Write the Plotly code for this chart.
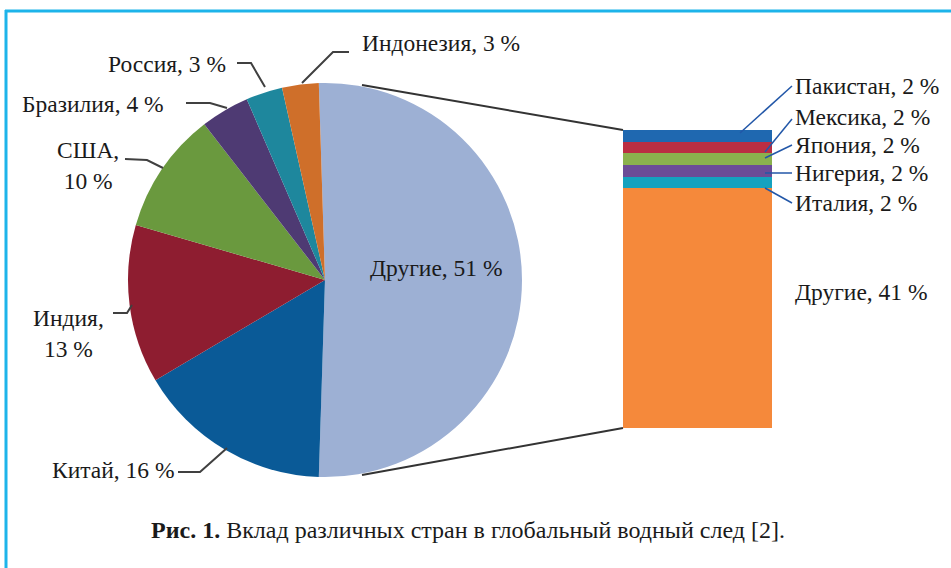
import plotly.graph_objects as go

# ---------------- data ----------------
pie_labels = ["Другие", "Китай", "Индия", "США", "Бразилия", "Россия", "Индонезия"]
pie_values = [51, 16, 13, 10, 4, 3, 3]
pie_colors = ["#9DB0D4", "#0A5A97", "#8E1D30", "#6A993E", "#4E3A73", "#1E879D", "#CF6F2A"]

bar_labels = ["Другие", "Италия", "Нигерия", "Япония", "Мексика", "Пакистан"]
bar_values = [41, 2, 2, 2, 2, 2]
bar_colors = ["#F5893B", "#15A2BF", "#6C4C97", "#8BB14D", "#BB2E42", "#1F68B0"]

caption_bold = "Рис. 1."
caption_text = "Вклад различных стран в глобальный водный след [2]."

# ---------------- geometry helpers ----------------
W, H = 951, 568
def px(x):
    return x / W
def py(y):
    return 1 - y / H

FONT = "Liberation Serif, Times New Roman, serif"
FS = 23.5

# pie placement
cx, cy, r = 325, 280, 197
# bar placement
bx0, bx1, by_top, by_bot = 623, 772, 130, 428

fig = go.Figure()

fig.add_trace(go.Pie(
    labels=pie_labels, values=pie_values,
    marker=dict(colors=pie_colors, line=dict(width=0)),
    sort=False, direction="clockwise", rotation=-1.8,
    textinfo="none", hoverinfo="label+percent",
    domain=dict(x=[px(cx - r), px(cx + r)], y=[py(cy + r), py(cy - r)]),
    showlegend=False,
))

for lab, val, col in zip(bar_labels, bar_values, bar_colors):
    fig.add_trace(go.Bar(
        x=["bar"], y=[val], name=lab, marker=dict(color=col, line=dict(width=0)),
        showlegend=False, xaxis="x", yaxis="y",
    ))

shapes = []
# frame
shapes.append(dict(type="line", xref="paper", yref="paper", x0=px(5), x1=px(W + 5), y0=py(11), y1=py(11),
                   line=dict(color="#1DB4EA", width=3)))
shapes.append(dict(type="line", xref="paper", yref="paper", x0=px(6), x1=px(6), y0=py(10), y1=py(H + 5),
                   line=dict(color="#1DB4EA", width=3)))
# connector lines pie -> bar
shapes.append(dict(type="line", xref="paper", yref="paper", x0=px(362), y0=py(85), x1=px(bx0), y1=py(by_top),
                   line=dict(color="#333333", width=2)))
shapes.append(dict(type="line", xref="paper", yref="paper", x0=px(362), y0=py(475), x1=px(bx0), y1=py(by_bot),
                   line=dict(color="#333333", width=2)))

def path(points):
    return "M " + " L ".join(f"{px(x):.5f},{py(y):.5f}" for x, y in points)

pie_leaders = [
    [(302, 83), (333, 52), (349, 52)],          # Индонезия
    [(265, 87), (251, 63), (237, 63)],          # Россия
    [(227, 108), (210, 103), (186, 103)],       # Бразилия
    [(163, 168), (147, 160), (125, 159)],       # США
    [(132, 305), (127, 313), (113, 313)],       # Индия
    [(227, 448), (200, 472), (178, 472)],       # Китай
]
for pts in pie_leaders:
    shapes.append(dict(type="path", xref="paper", yref="paper", path=path(pts),
                       line=dict(color="#404040", width=2)))

bar_leaders = [
    [(740, 133), (792, 86)],    # Пакистан
    [(765, 152), (792, 119)],   # Мексика
    [(765, 158), (792, 145)],   # Япония
    [(765, 173), (792, 173)],   # Нигерия
    [(765, 188), (792, 203)],   # Италия
]
for pts in bar_leaders:
    shapes.append(dict(type="path", xref="paper", yref="paper", path=path(pts),
                       line=dict(color="#2257A8", width=1.5)))

pv = dict(zip(pie_labels, pie_values))
bv = dict(zip(bar_labels, bar_values))

def ann(text, x, y, xanchor="left", align="left", size=FS):
    return dict(text=text, x=px(x), y=py(y), xref="paper", yref="paper", showarrow=False,
                xanchor=xanchor, yanchor="middle", align=align,
                font=dict(family=FONT, size=size, color="#1a1a1a"))

annotations = [
    ann(f"Индонезия, {pv['Индонезия']} %", 360, 43),
    ann(f"Россия, {pv['Россия']} %", 228, 64, xanchor="right"),
    ann(f"Бразилия, {pv['Бразилия']} %", 166, 104, xanchor="right"),
    ann(f"США,<br>{pv['США']} %", 88, 166, xanchor="center", align="center"),
    ann(f"Индия,<br>{pv['Индия']} %", 68, 333, xanchor="center", align="center"),
    ann(f"Китай, {pv['Китай']} %", 177, 470, xanchor="right"),
    ann(f"Другие, {pv['Другие']} %", 436, 268, xanchor="center", align="center"),
    ann(f"Пакистан, {bv['Пакистан']} %", 793, 86),
    ann(f"Мексика, {bv['Мексика']} %", 793, 117),
    ann(f"Япония, {bv['Япония']} %", 793, 145),
    ann(f"Нигерия, {bv['Нигерия']} %", 793, 173),
    ann(f"Италия, {bv['Италия']} %", 793, 203),
    ann(f"Другие, {bv['Другие']} %", 793, 292),
    ann(f"<b>{caption_bold}</b> {caption_text}", 468, 530, xanchor="center", align="center", size=24),
]

fig.update_layout(
    width=W, height=H,
    margin=dict(l=0, r=0, t=0, b=0),
    paper_bgcolor="white", plot_bgcolor="rgba(0,0,0,0)",
    barmode="stack", bargap=0,
    xaxis=dict(domain=[px(bx0), px(bx1)], visible=False, fixedrange=True),
    yaxis=dict(domain=[py(by_bot), py(by_top)], range=[0, sum(bar_values)], visible=False, fixedrange=True),
    shapes=shapes, annotations=annotations,
    showlegend=False,
)

fig.write_html("out.html", config={"displayModeBar": False},
               post_script="document.body.style.margin='0';document.body.style.overflow='hidden';")
